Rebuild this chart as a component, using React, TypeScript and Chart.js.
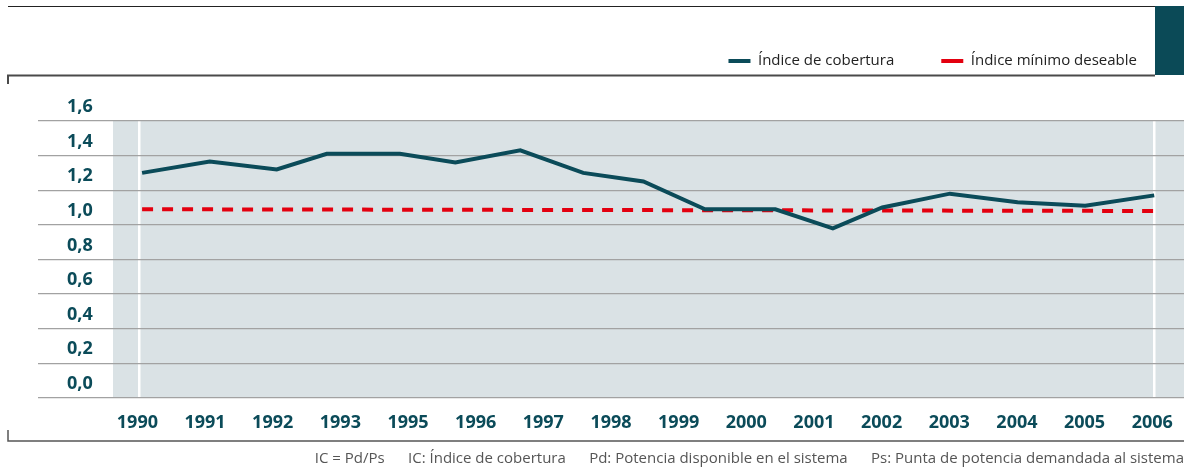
import React, { useEffect, useRef } from 'react';
import { Chart, registerables } from 'chart.js';

Chart.register(...registerables);

// ---- data ----
const yearLabels = ['1990', '1991', '1992', '1993', '1995', '1996', '1997', '1998', '1999', '2000', '2001', '2002', '2003', '2004', '2005', '2006'];
// position of each coverage point along the year axis (0 = 1990 label, 15 = 2006 label)
const coveragePos = [0.04, 1.04, 2.03, 2.77, 3.85, 4.67, 5.63, 6.56, 7.45, 8.36, 9.4, 10.25, 10.98, 11.98, 12.98, 13.98, 15];
const coverageValues = [1.3, 1.365, 1.32, 1.41, 1.41, 1.36, 1.43, 1.3, 1.25, 1.09, 1.09, 0.98, 1.1, 1.18, 1.13, 1.11, 1.17];
const minimumPos = [0.04, 15];
const minimumValues = [1.09, 1.08];
const yTickValues = [0, 0.2, 0.4, 0.6, 0.8, 1.0, 1.2, 1.4, 1.6];
const seriesNames = ['Índice de cobertura', 'Índice mínimo deseable'];
const footerText = 'IC = Pd/Ps      IC: Índice de cobertura      Pd: Potencia disponible en el sistema      Ps: Punta de potencia demandada al sistema';

const TEAL = '#0b4b59';
const RED = '#e3000f';
const PLOT_BG = '#dae2e5';
const GRID = '#a2a2a2';
const FONT = "'Open Sans', 'DejaVu Sans', sans-serif";

const decorPlugin = {
  id: 'decor',
  beforeDraw(chart: any) {
    const { ctx, chartArea, width } = chart;
    const y = chart.scales.y;
    const top = y.getPixelForValue(yTickValues[yTickValues.length - 1]);
    const bottom = y.getPixelForValue(0);
    ctx.save();
    // plot background
    ctx.fillStyle = PLOT_BG;
    ctx.fillRect(chartArea.left, top, chartArea.right - chartArea.left, bottom - top);
    // header frame
    ctx.strokeStyle = '#222';
    ctx.lineWidth = 1.2;
    ctx.beginPath();
    ctx.moveTo(8, 6.5);
    ctx.lineTo(width, 6.5);
    ctx.stroke();
    ctx.fillStyle = '#0b4a57';
    ctx.fillRect(1155, 6, width - 1155, 69);
    ctx.strokeStyle = '#4a4a4a';
    ctx.lineWidth = 2;
    ctx.beginPath();
    ctx.moveTo(8, 84);
    ctx.lineTo(8, 75.5);
    ctx.lineTo(1155, 75.5);
    ctx.stroke();
    // bottom frame
    ctx.strokeStyle = '#555';
    ctx.lineWidth = 1.5;
    ctx.beginPath();
    ctx.moveTo(8, 430);
    ctx.lineTo(8, 441);
    ctx.lineTo(width, 441);
    ctx.stroke();
    ctx.restore();
  },
};

export default function App() {
  const canvasRef = useRef<HTMLCanvasElement | null>(null);

  useEffect(() => {
    if (!canvasRef.current) return;
    const chart = new Chart(canvasRef.current, {
      type: 'line',
      data: {
        datasets: [
          {
            label: seriesNames[0],
            data: coveragePos.map((x, i) => ({ x, y: coverageValues[i] })),
            borderColor: TEAL,
            backgroundColor: TEAL,
            borderWidth: 4,
            pointRadius: 0,
            tension: 0,
            fill: false,
          },
          {
            label: seriesNames[1],
            data: minimumPos.map((x, i) => ({ x, y: minimumValues[i] })),
            borderColor: RED,
            backgroundColor: RED,
            borderWidth: 4,
            borderDash: [11, 9],
            pointRadius: 0,
            tension: 0,
            fill: false,
          },
        ],
      },
      options: {
        responsive: false,
        animation: false,
        layout: { padding: { top: 6.5, left: 67, right: 0, bottom: 0 } },
        plugins: {
          legend: {
            display: true,
            position: 'top',
            align: 'end',
            labels: {
              boxWidth: 22,
              boxHeight: 4,
              padding: 47,
              color: '#222',
              font: { family: FONT, size: 15 },
              generateLabels: (c: any) =>
                c.data.datasets.map((ds: any, i: number) => ({
                  text: ds.label,
                  fillStyle: ds.borderColor,
                  strokeStyle: ds.borderColor,
                  lineWidth: 0,
                  hidden: false,
                  datasetIndex: i,
                  fontColor: '#222',
                })),
            },
          },
          title: {
            display: true,
            position: 'bottom',
            align: 'end',
            text: footerText,
            color: '#555',
            font: { family: FONT, size: 15, weight: 'normal' },
            padding: { top: 10, bottom: 1 },
          },
          tooltip: { enabled: false },
        },
        scales: {
          x: {
            type: 'linear',
            min: -0.39,
            max: 15.44,
            afterBuildTicks: (s: any) => {
              s.ticks = yearLabels.map((_, i) => ({ value: i }));
            },
            afterFit: (s: any) => {
              s.height = 42;
              s.paddingLeft = 0;
              s.paddingRight = 0;
            },
            ticks: {
              autoSkip: false,
              maxRotation: 0,
              padding: 14,
              labelOffset: -2,
              color: TEAL,
              font: { family: FONT, size: 18, weight: 'bold' },
              callback: (_v: any, i: number) => yearLabels[i],
            },
            grid: {
              drawTicks: false,
              lineWidth: 2.5,
              color: (c: any) =>
                c.tick && (c.tick.value === 0 || c.tick.value === yearLabels.length - 1) ? '#ffffff' : 'rgba(0,0,0,0)',
            },
            border: { display: false },
          },
          y: {
            type: 'linear',
            min: 0,
            max: 1.845,
            afterBuildTicks: (s: any) => {
              s.ticks = yTickValues.map((v) => ({ value: v }));
            },
            afterFit: (s: any) => {
              s.width = 46;
            },
            ticks: {
              crossAlign: 'far',
              padding: 0,
              labelOffset: -14,
              color: TEAL,
              font: { family: FONT, size: 18, weight: 'bold' },
              callback: (v: any) => Number(v).toFixed(1).replace('.', ','),
            },
            grid: {
              color: GRID,
              tickColor: GRID,
              lineWidth: 1.2,
              drawTicks: true,
              tickLength: 75,
            },
            border: { display: false },
          },
        },
      },
      plugins: [decorPlugin],
    } as any);
    return () => chart.destroy();
  }, []);

  return (
    <div style={{ position: 'absolute', left: 0, top: 0, width: 1184, height: 469 }}>
      <canvas ref={canvasRef} width={1184} height={469} style={{ display: 'block' }} />
    </div>
  );
}
